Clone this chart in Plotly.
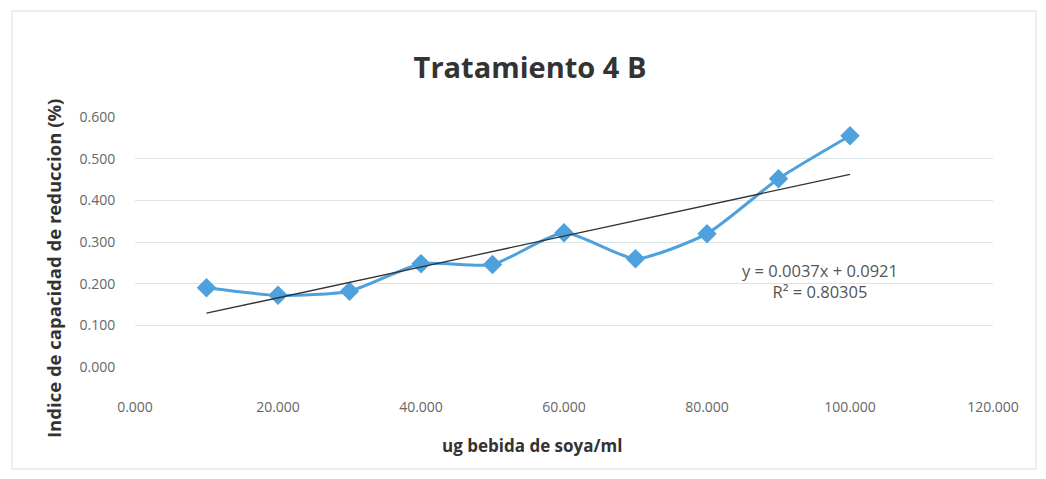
import plotly.graph_objects as go

# data
dosis = [10, 20, 30, 40, 50, 60, 70, 80, 90, 100]
indice = [0.190, 0.172, 0.182, 0.248, 0.246, 0.322, 0.260, 0.320, 0.452, 0.555]
pendiente = 0.0037
intercepto = 0.0921
x_ticks = [0, 20, 40, 60, 80, 100, 120]
y_ticks = [0, 0.1, 0.2, 0.3, 0.4, 0.5, 0.6]

# the page body has an 8px margin, so the figure starts at (8, 8)
OFF = 8
W, H = 1030, 463
L, T = 135 - OFF, 117 - OFF
pw, ph = 858, 250
R, B = W - L - pw, H - T - ph


def px_x(p):
    return (p - OFF - L) / pw


def px_y(p):
    return (T + ph - (p - OFF)) / ph


x_tend = [min(dosis), max(dosis)]
y_tend = [pendiente * v + intercepto for v in x_tend]

fig = go.Figure()
fig.add_trace(go.Scatter(x=dosis, y=indice, mode='lines+markers',
                         line=dict(color='#4ea1dc', width=3, shape='spline', smoothing=0.6),
                         marker=dict(symbol='diamond', size=15, color='#4ea1dc'),
                         showlegend=False))
fig.add_trace(go.Scatter(x=x_tend, y=y_tend, mode='lines',
                         line=dict(color='#333333', width=1.3),
                         showlegend=False))

fig.update_layout(
    width=W, height=H,
    margin=dict(l=L, r=R, t=T, b=B),
    paper_bgcolor='white', plot_bgcolor='white',
    font=dict(family='Open Sans', color='#666666'),
    title=dict(text='<b>Tratamiento 4 B</b>', x=(530 - OFF) / W, xanchor='center',
               y=1 - (68 - OFF) / H, yanchor='middle',
               font=dict(size=29, color='#333333', family='Open Sans')),
    xaxis=dict(range=[0, 120], tickvals=x_ticks,
               ticktext=['%.3f' % v for v in x_ticks],
               showgrid=False, zeroline=False, showline=False,
               ticks='outside', ticklen=27, tickcolor='rgba(0,0,0,0)',
               tickfont=dict(size=14, color='#666666')),
    yaxis=dict(range=[0, 0.6], tickvals=y_ticks,
               ticktext=['%.3f' % v for v in y_ticks],
               showgrid=True, gridcolor='#dbe4e6', gridwidth=1.3,
               zeroline=False, showline=False,
               ticks='outside', ticklen=16, tickcolor='rgba(0,0,0,0)',
               tickfont=dict(size=14, color='#666666')),
)

fig.add_annotation(text='<b>ug bebida de soya/ml</b>',
                   xref='paper', yref='paper', x=px_x(532), y=px_y(445),
                   xanchor='center', yanchor='middle', showarrow=False,
                   font=dict(size=17, color='#333333'))
fig.add_annotation(text='<b>Indice de capacidad de reduccion (%)</b>',
                   xref='paper', yref='paper', x=px_x(53), y=px_y(269),
                   xanchor='center', yanchor='middle',
                   textangle=-90, showarrow=False,
                   font=dict(size=18.5, color='#333333'))
fig.add_annotation(text='y = 0.0037x + 0.0921<br>R² = 0.80305',
                   xref='paper', yref='paper', x=px_x(820), y=px_y(281),
                   xanchor='center', yanchor='middle',
                   showarrow=False, align='center',
                   font=dict(size=16.5, color='#555555'))

fig.add_shape(type='rect', xref='paper', yref='paper',
              x0=px_x(12), x1=px_x(1036), y0=px_y(469), y1=px_y(11),
              line=dict(color='#e3eaec', width=1.5))

fig.write_html("out.html")
